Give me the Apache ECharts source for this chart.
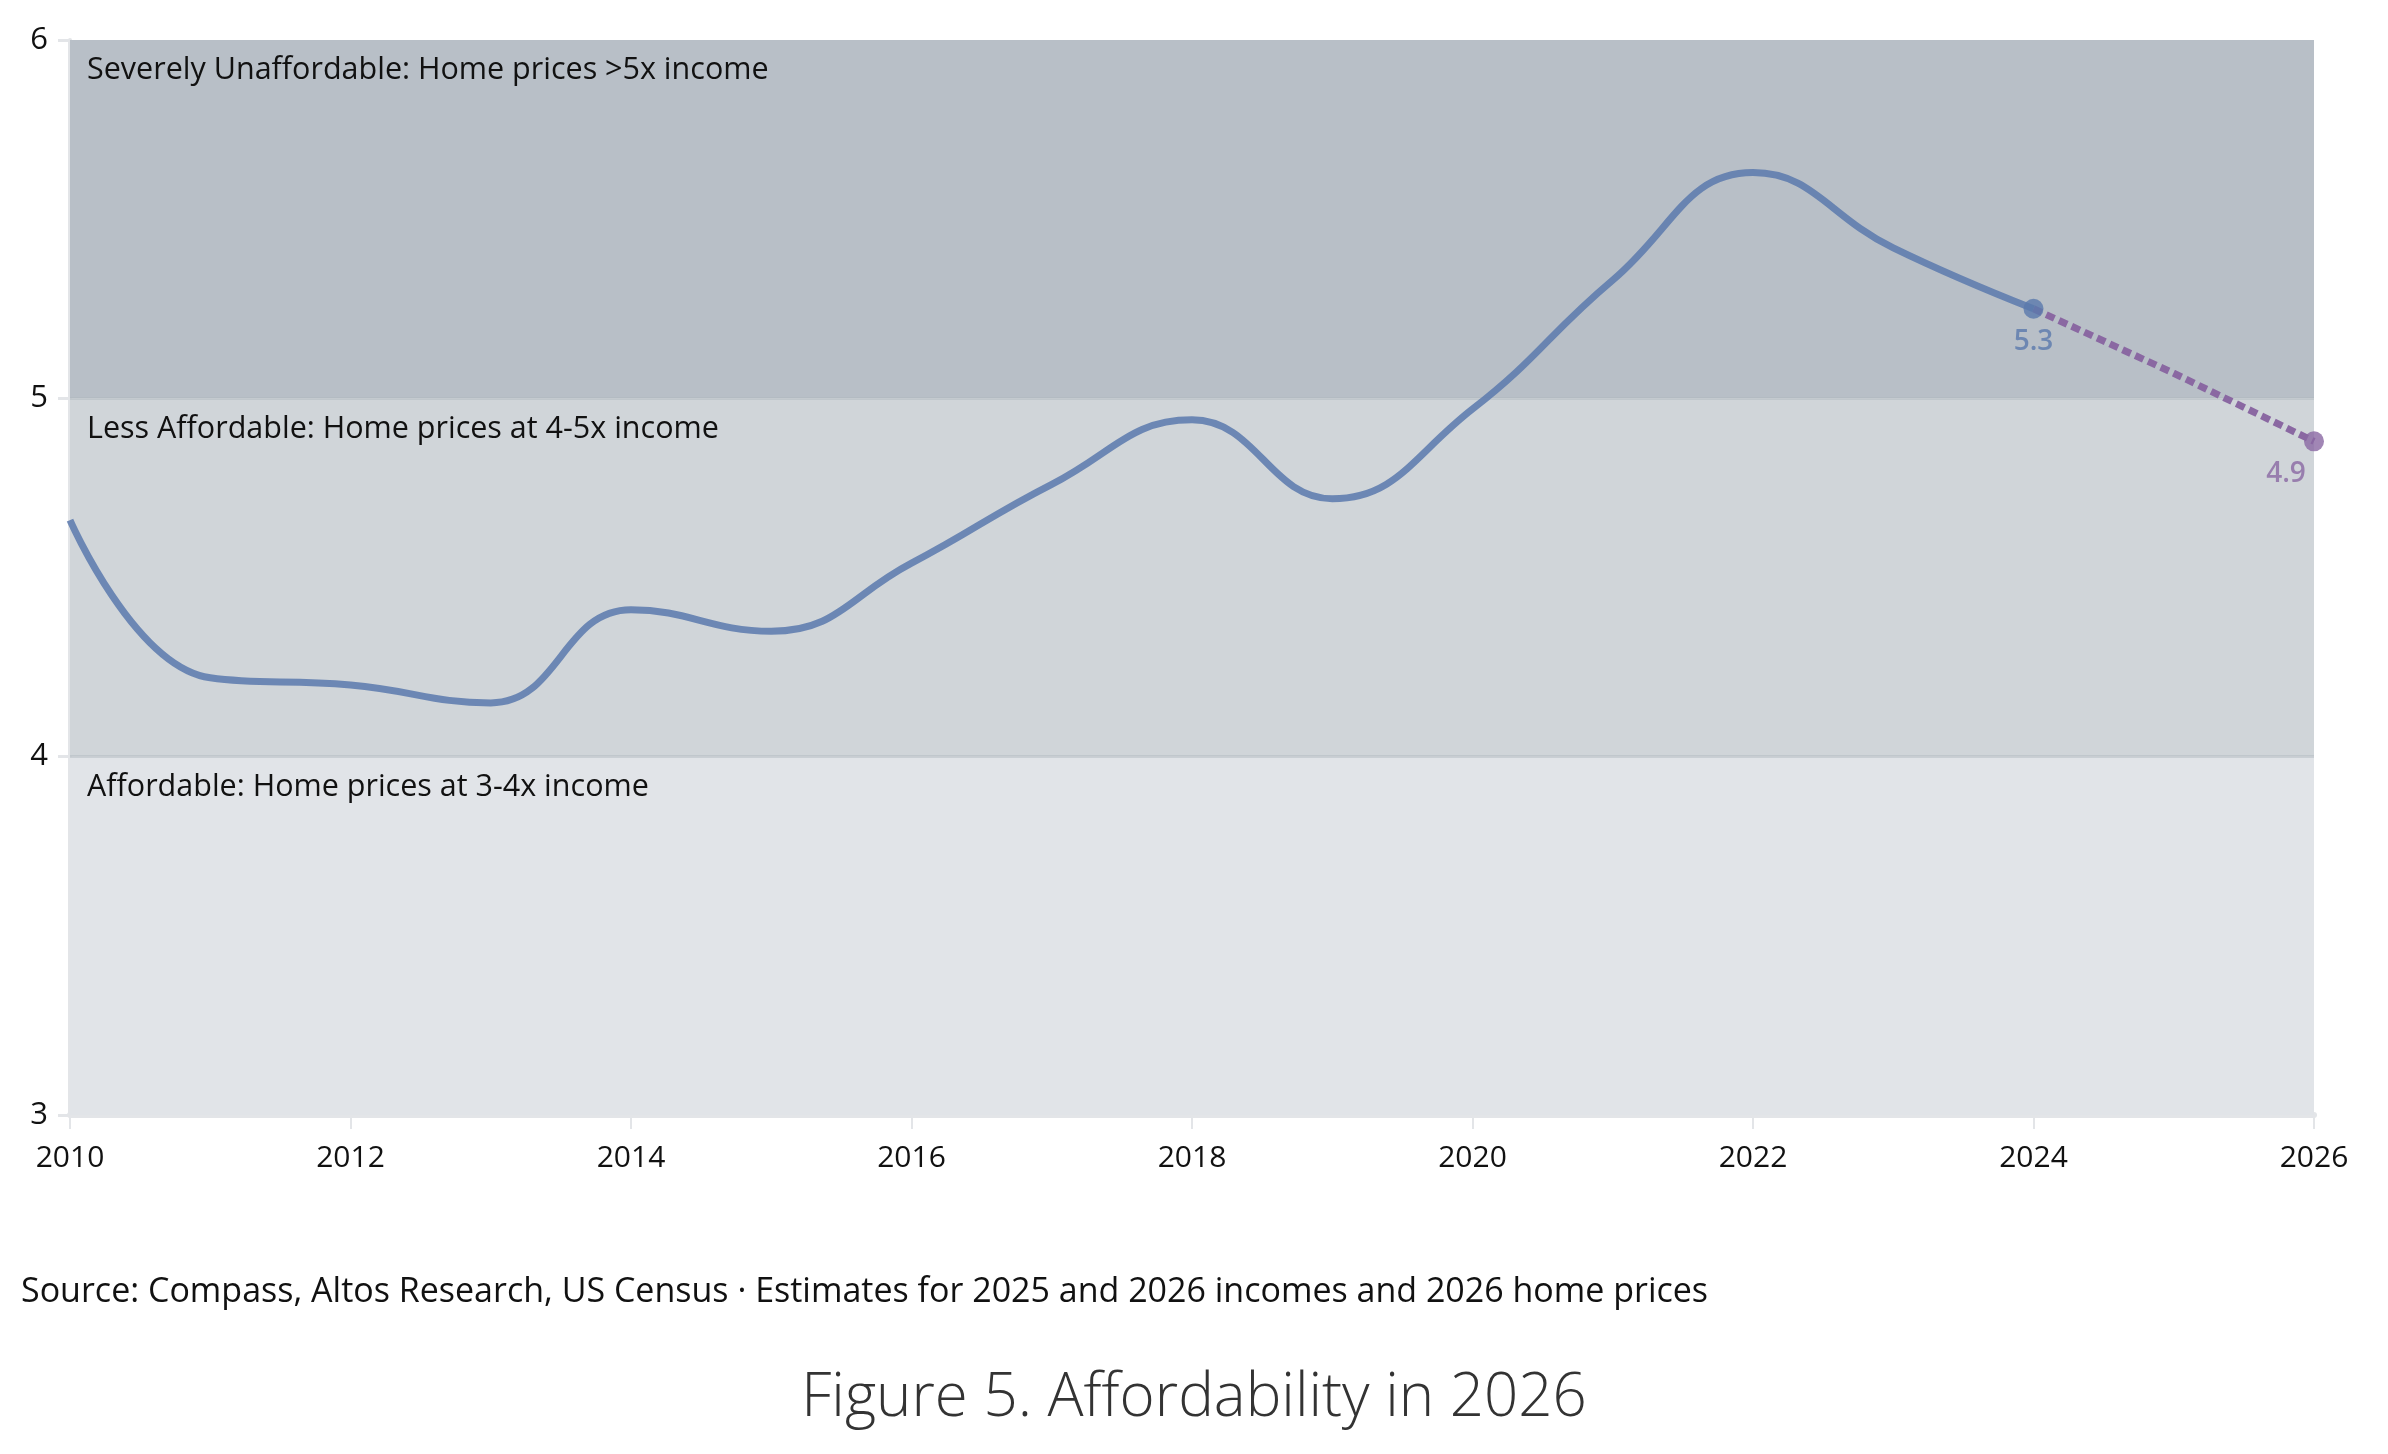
<!DOCTYPE html>
<html>
<head>
<meta charset="utf-8">
<script src="https://cdn.jsdelivr.net/npm/echarts@6/dist/echarts.min.js"></script>
<style>
html,body{margin:0;padding:0;background:#fff;}
#chart{width:2388px;height:1454px;}
</style>
</head>
<body>
<div id="chart"></div>
<script>
// ---- data ----
const years = [2010,2011,2012,2013,2014,2015,2016,2017,2018,2019,2020,2021,2022,2023,2024];
const ratio = [4.66,4.22,4.20,4.15,4.41,4.35,4.54,4.76,4.94,4.72,4.97,5.33,5.63,5.42,5.25];
const estYears = [2024,2025,2026];
const estRatio = [5.25,5.07,4.88];
const bandFrom = [5,4,3];
const bandTo = [6,5,4];
const bandNames = [
  'Severely Unaffordable: Home prices >5x income',
  'Less Affordable: Home prices at 4-5x income',
  'Affordable: Home prices at 3-4x income'
];
const bandColors = ['#b8bfc7','#d0d5d9','#e1e4e8'];
const sourceText = 'Source: Compass, Altos Research, US Census \u00b7 Estimates for 2025 and 2026 incomes and 2026 home prices';
const titleText = 'Figure 5. Affordability in 2026';

const FONT = '"Open Sans", Lato, sans-serif';
const chart = echarts.init(document.getElementById('chart'));

const histData = years.map((y,i)=>[y, ratio[i]]);
const estData = estYears.map((y,i)=>[y, estRatio[i]]);

chart.setOption({
  backgroundColor:'#ffffff',
  animation:false,
  textStyle:{fontFamily:FONT},
  title:{
    text:titleText,
    left:'center', top:1364,
    textStyle:{fontFamily:FONT, fontSize:60, fontWeight:300, color:'#333333'}
  },
  grid:{left:70, right:74, top:40, bottom:339, containLabel:false},
  xAxis:{
    type:'value', min:2010, max:2026, interval:2,
    axisLine:{show:true, lineStyle:{color:'#e3e5e8', width:6}},
    axisTick:{show:true, length:14, lineStyle:{color:'#e3e5e8', width:2}},
    axisLabel:{color:'#111', fontSize:30, margin:28, fontFamily:FONT, formatter:v=>String(v)},
    splitLine:{show:false}
  },
  yAxis:{
    type:'value', min:3, max:6, interval:1,
    axisLine:{show:true, lineStyle:{color:'#e3e5e8', width:4}},
    axisTick:{show:true, length:12, lineStyle:{color:'#e3e5e8', width:3}},
    axisLabel:{color:'#111', fontSize:31, margin:22, fontFamily:FONT},
    splitLine:{show:false}
  },
  series:[
    {
      type:'line',
      data:histData,
      smooth:0.45,
      showSymbol:false,
      lineStyle:{color:'#5a79ad', width:7, opacity:0.85},
      z:5,
      markArea:{
        silent:true,
        label:{show:false},
        data:bandFrom.map((f,i)=>[
          {yAxis:f, xAxis:2010, itemStyle:{color:bandColors[i]}},
          {yAxis:bandTo[i], xAxis:2026}
        ])
      },
      markLine:{
        silent:true, symbol:'none', label:{show:false},
        lineStyle:{color:'#aeb5bd', width:3, type:'solid', opacity:0.45},
        data:[{yAxis:5},{yAxis:4}]
      }
    },
    {
      type:'line',
      data:estData,
      showSymbol:false,
      lineStyle:{color:'#8a68a2', width:7, type:[9,5]},
      z:6
    },
    {
      type:'scatter',
      data:[histData[histData.length-1]],
      symbolSize:20,
      itemStyle:{color:'#5a79ad'},
      z:8,
      label:{show:true, position:'bottom', distance:9, formatter:p=>p.value[1].toFixed(1),
             color:'#5a79ad', fontSize:28, fontWeight:600, fontFamily:FONT}
    },
    {
      type:'scatter',
      data:[estData[estData.length-1]],
      symbolSize:20,
      itemStyle:{color:'#8a68a2'},
      z:8,
      label:{show:true, position:'bottom', distance:9, offset:[-28,0], formatter:p=>p.value[1].toFixed(1),
             color:'#8a68a2', fontSize:28, fontWeight:600, fontFamily:FONT}
    }
  ]
});

// band labels + source, positioned with the chart's own scales
const graphics = bandTo.map((t,i)=>{
  const p = chart.convertToPixel({gridIndex:0}, [2010, t]);
  return {type:'text', x:p[0]+17, y:p[1]+15,
    style:{text:bandNames[i], fontFamily:FONT, fontSize:30.5, fill:'#111', textVerticalAlign:'top'}, z:10};
});
graphics.push({type:'text', left:21, top:1275,
  style:{text:sourceText, fontFamily:FONT, fontSize:34, fill:'#111111'}});
chart.setOption({graphic:graphics});
</script>
</body>
</html>
